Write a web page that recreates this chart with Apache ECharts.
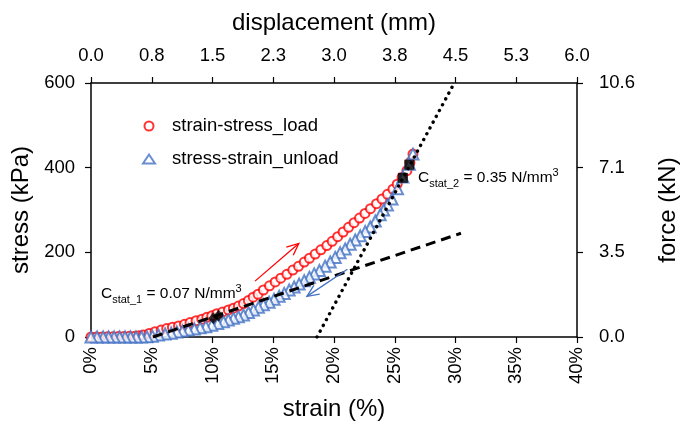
<!DOCTYPE html>
<html><head><meta charset="utf-8">
<script src="https://cdn.jsdelivr.net/npm/echarts@6/dist/echarts.min.js"></script>
<style>html,body{margin:0;padding:0;background:#fff}#c{width:680px;height:430px}</style>
</head><body><div id="c"></div>
<script>
// ---- data (strain in %, stress in kPa) ----
const loadStrain = [0,0.45,0.9,1.35,1.8,2.25,2.7,3.15,3.6,3.95,4.3,4.78,5.27,5.77,6.23,6.7,7.2,7.69,8.15,8.65,9.12,9.53,9.94,10.35,10.82,11.31,11.72,12.13,12.55,12.95,13.35,13.75,14.19,14.69,15.16,15.62,16.12,16.61,17.08,17.55,17.98,18.45,18.92,19.41,19.85,20.3,20.75,21.2,21.65,22.1,22.55,23.0,23.5,23.95,24.4,24.85,25.2,25.6,26.0,26.25,26.5];
const loadStress = [0,0,0,0.5,0.5,1,1,1.5,2,3,5,8.5,12.5,16.5,20,23,26,30,34,38.5,42,46.5,50,55,59,64,68,73,79,86,94,101,111,121,130,139,148,158,167,177,186,196,206,216,226,237,248,259,270,281,292,303,315,326,337,349,361,377,393,412,432];
const unloadStrain = [26.5,26.2,25.67,25.23,24.77,24.4,24.08,23.8,23.4,22.98,22.57,22.16,21.75,21.33,20.92,20.5,20.1,19.69,19.27,18.8,18.37,17.98,17.55,17.13,16.72,16.31,15.9,15.49,15.07,14.66,14.19,13.78,13.37,12.96,12.55,12.13,11.72,11.3,10.9,10.43,9.94,9.45,8.98,8.5,8.0,7.52,7.06,6.6,6.1,5.55,5.05,4.6,4.15,3.7,3.25,2.8,2.35,1.9,1.45,1.0,0.5,0];
const unloadStress = [432,408,378,350,326,312,300,289,274,260,249,239,229,219,208,199,188,177,167,157,149,141,133,125,118,111,103,96,89,82,76,70,64,58,52,48,44,40,36,32,28,24.5,22,19,16.5,14,12,9,7,4.5,2,0.5,0,0,0,0,0,0,0,0,0,0];
const cstat1Strain = [10.07,10.5];
const cstat1Stress = [44,50];
const cstat2Strain = [25.67,26.2];
const cstat2Stress = [376,407];
const fit1Strain = [5.1,30.45];
const fit1Stress = [0,245];
const fit2Strain = [18.6,29.9];
const fit2Stress = [0,600];
const redArrow = [13.5,132,17.1,221];
const blueArrow = [21.1,160,17.77,96];
const seriesNames = ['strain-stress_load','stress-strain_unload'];

const zip = (a,b) => a.map((v,i)=>[v,b[i]]);
const F = "'Liberation Sans Narrow','Arial Narrow','Liberation Sans',sans-serif";
const BLUE = '#4472c4';

function arrowRender(color){
  return function(params, api){
    const a = api.coord([api.value(0), api.value(1)]);
    const b = api.coord([api.value(2), api.value(3)]);
    const ang = Math.atan2(b[1]-a[1], b[0]-a[0]);
    const L = 13, w = 0.42;
    const h1 = [b[0]-L*Math.cos(ang-w), b[1]-L*Math.sin(ang-w)];
    const h2 = [b[0]-L*Math.cos(ang+w), b[1]-L*Math.sin(ang+w)];
    return {type:'group', children:[
      {type:'line', shape:{x1:a[0],y1:a[1],x2:b[0],y2:b[1]}, style:{stroke:color,lineWidth:1.3}},
      {type:'polyline', shape:{points:[h1,b,h2]}, style:{stroke:color,fill:null,lineWidth:1.3}}
    ]};
  };
}

const axisCommon = {
  axisLine:{show:true,onZero:false,lineStyle:{color:'#000',width:1.5}},
  axisTick:{show:true,inside:false,length:6,lineStyle:{color:'#000',width:1.2}},
  splitLine:{show:false},
  nameTextStyle:{fontFamily:F,fontSize:24,color:'#000'}
};
const labelCommon = {fontFamily:F,fontSize:18.5,color:'#000'};

const chart = echarts.init(document.getElementById('c'), null, {renderer:'canvas'});
const rich = {
  c:{fontFamily:F,fontSize:15.5,color:'#000',lineHeight:22,verticalAlign:'middle'},
  m:{fontFamily:F,fontSize:15.5,color:'#000',lineHeight:22,verticalAlign:'middle'},
  sub:{fontFamily:F,fontSize:11,color:'#000',lineHeight:12,verticalAlign:'bottom'},
  sup:{fontFamily:F,fontSize:11,color:'#000',lineHeight:15,verticalAlign:'top'}
};
chart.setOption({
  animation:false,
  backgroundColor:'#fff',
  grid:{left:91,right:103,top:83,bottom:93,containLabel:false,outerBoundsMode:'none'},
  legend:{
    data:[{name:seriesNames[0],icon:'emptyCircle'},{name:seriesNames[1],icon:'emptyTriangle'}],
    orient:'vertical', left:137, top:109, itemWidth:12, itemHeight:9,
    itemGap:9, textStyle:{fontFamily:F,fontSize:18.5,color:'#000',lineHeight:24,padding:[0,0,0,12]}
  },
  xAxis:[
    Object.assign({type:'value',position:'bottom',min:0,max:40,interval:5,
      name:'strain (%)',nameLocation:'middle',nameGap:60,
      axisLabel:Object.assign({rotate:90,margin:10,formatter:'{value}%'},labelCommon)},axisCommon),
    Object.assign({type:'value',position:'top',min:0,max:6,interval:0.75,
      name:'displacement (mm)',nameLocation:'middle',nameGap:48,
      axisLabel:Object.assign({margin:18,formatter:v=>v.toFixed(1)},labelCommon)},axisCommon)
  ],
  yAxis:[
    Object.assign({type:'value',position:'left',min:0,max:600,interval:200,
      name:'stress (kPa)',nameLocation:'middle',nameGap:56,nameRotate:90,
      axisLabel:Object.assign({margin:16},labelCommon)},axisCommon),
    Object.assign({type:'value',position:'right',min:0,max:10.6,interval:10.6/3,
      name:'force (kN)',nameLocation:'middle',nameGap:79,nameRotate:90,
      axisLabel:Object.assign({margin:22,formatter:v=>v.toFixed(1)},labelCommon)},axisCommon)
  ],
  series:[
    {name:seriesNames[0],type:'scatter',data:zip(loadStrain,loadStress),symbol:'emptyCircle',symbolSize:9,
      itemStyle:{color:'#ff0000',borderColor:'#ff0000',borderWidth:1.3},z:2},
    {name:seriesNames[1],type:'scatter',data:zip(unloadStrain,unloadStress),symbol:'emptyTriangle',symbolSize:11,
      itemStyle:{color:BLUE,borderColor:BLUE,borderWidth:1.4},z:3},
    {type:'line',data:zip(fit1Strain,fit1Stress),showSymbol:false,symbol:'none',
      lineStyle:{color:'#000',width:3,type:[10,6]},z:4},
    {type:'line',data:zip(fit2Strain,fit2Stress),showSymbol:false,symbol:'none',
      lineStyle:{color:'#000',width:3.4,type:[0.1,6.5],cap:'round'},z:4},
    {type:'scatter',data:zip(cstat1Strain,cstat1Stress),symbol:'diamond',symbolSize:[10,12],
      itemStyle:{color:'#000'},z:5},
    {type:'scatter',data:zip(cstat2Strain,cstat2Stress),symbol:'rect',symbolSize:10,
      itemStyle:{color:'#000'},z:5},
    {type:'custom',renderItem:arrowRender('#ff0000'),data:[redArrow],encode:{x:[0,2],y:[1,3]},z:6},
    {type:'custom',renderItem:arrowRender(BLUE),data:[blueArrow],encode:{x:[0,2],y:[1,3]},z:6}
  ],
  graphic:[
    {type:'text',left:101,top:283,style:{text:'{c|C}{sub|stat_1}{m| = 0.07 N/mm}{sup|3}',rich:rich}},
    {type:'text',left:418,top:167,style:{text:'{c|C}{sub|stat_2}{m| = 0.35 N/mm}{sup|3}',rich:rich}}
  ]
});
</script>
</body></html>
